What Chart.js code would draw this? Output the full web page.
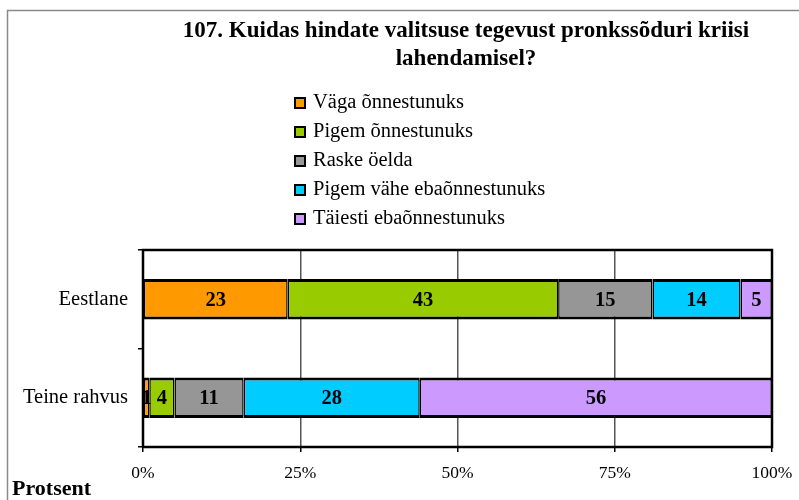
<!DOCTYPE html>
<html>
<head>
<meta charset="utf-8">
<script src="https://cdn.jsdelivr.net/npm/chart.js@4"></script>
<style>
html,body{margin:0;padding:0;background:#fff;}
#wrap{width:799px;height:500px;position:relative;}
</style>
</head>
<body>
<div id="wrap"><canvas id="c" width="799" height="500"></canvas></div>
<script>
const titleLines = ['107. Kuidas hindate valitsuse tegevust pronkssõduri kriisi', 'lahendamisel?'];
const axisTitle = 'Protsent';
const categories = ['Eestlane', 'Teine rahvus'];
const seriesNames = ['Väga õnnestunuks', 'Pigem õnnestunuks', 'Raske öelda', 'Pigem vähe ebaõnnestunuks', 'Täiesti ebaõnnestunuks'];
const vagaOnnestunuks = [23, 1];
const pigemOnnestunuks = [43, 4];
const raskeOelda = [15, 11];
const pigemVaheEbaonnestunuks = [14, 28];
const taiestiEbaonnestunuks = [5, 56];
const xTickValues = [0, 25, 50, 75, 100];
const seriesColors = ['#FF9900', '#99CC00', '#969696', '#00CCFF', '#CC99FF'];

const seriesValues = [vagaOnnestunuks, pigemOnnestunuks, raskeOelda, pigemVaheEbaonnestunuks, taiestiEbaonnestunuks];
const SERIF = '"Liberation Serif", "Times New Roman", serif';

const decorPlugin = {
  id: 'decor',
  beforeDraw(chart) {
    const ctx = chart.ctx;
    ctx.save();
    ctx.fillStyle = '#fff';
    ctx.fillRect(0, 0, chart.width, chart.height);
    ctx.strokeStyle = '#8a8a8a';
    ctx.lineWidth = 1.5;
    ctx.beginPath();
    ctx.moveTo(7.5, chart.height);
    ctx.lineTo(7.5, 10.5);
    ctx.lineTo(chart.width, 10.5);
    ctx.stroke();
    ctx.restore();
  },
  afterDatasetsDraw(chart) {
    const ctx = chart.ctx;
    const a = chart.chartArea;
    ctx.save();
    // plot frame
    ctx.strokeStyle = '#000';
    ctx.lineWidth = 2.5;
    ctx.strokeRect(a.left, a.top, a.right - a.left, a.bottom - a.top);
    // data labels
    ctx.fillStyle = '#000';
    ctx.font = 'bold 20.5px ' + SERIF;
    ctx.textAlign = 'center';
    ctx.textBaseline = 'middle';
    chart.data.datasets.forEach((ds, i) => {
      const meta = chart.getDatasetMeta(i);
      meta.data.forEach((el, j) => {
        const p = el.getProps(['x', 'y', 'base'], true);
        ctx.fillText(String(ds.data[j]), (p.x + p.base) / 2, p.y + 1);
      });
    });
    // title
    ctx.font = 'bold 23px ' + SERIF;
    ctx.textBaseline = 'alphabetic';
    ctx.fillText(titleLines[0], 466, 37);
    ctx.fillText(titleLines[1], 466, 65);
    // legend
    ctx.textAlign = 'left';
    ctx.font = '20.5px ' + SERIF;
    chart.data.datasets.forEach((ds, i) => {
      const base = 108 + i * 29;
      ctx.fillStyle = ds.backgroundColor;
      ctx.fillRect(295, base - 10, 10, 10);
      ctx.strokeStyle = '#000';
      ctx.lineWidth = 2;
      ctx.strokeRect(295, base - 10, 10, 10);
      ctx.fillStyle = '#000';
      ctx.fillText(ds.label, 313, base);
    });
    // axis title
    ctx.font = 'bold 22px ' + SERIF;
    ctx.fillText(axisTitle, 12, 495);
    ctx.restore();
  }
};

new Chart(document.getElementById('c'), {
  type: 'bar',
  data: {
    labels: categories,
    datasets: seriesNames.map((name, i) => ({
      label: name,
      data: seriesValues[i],
      backgroundColor: seriesColors[i],
      borderColor: '#000',
      borderWidth: {top: 3, bottom: 3, left: 1.5, right: 1.5},
      borderSkipped: false,
      barPercentage: 0.41,
      categoryPercentage: 1
    }))
  },
  options: {
    indexAxis: 'y',
    responsive: false,
    animation: false,
    layout: {padding: {top: 250, left: 0, right: 27, bottom: 0}},
    plugins: {
      legend: {display: false},
      title: {display: false},
      tooltip: {enabled: false}
    },
    scales: {
      x: {
        stacked: true,
        min: 0,
        max: 100,
        afterBuildTicks: s => { s.ticks = xTickValues.map(v => ({value: v})); },
        afterFit: s => { s.height = 53; s.paddingRight = 0; s.paddingLeft = 0; },
        border: {display: false},
        grid: {color: '#555', lineWidth: 1.5, tickLength: 5, tickColor: '#000'},
        ticks: {
          padding: 11,
          color: '#000',
          font: {family: SERIF, size: 17.5},
          callback: v => v + '%'
        }
      },
      y: {
        stacked: true,
        afterFit: s => { s.width = 143; },
        border: {display: false},
        grid: {drawOnChartArea: false, offset: true, tickLength: 5, tickColor: '#000', lineWidth: 1.5},
        ticks: {
          padding: 10,
          color: '#000',
          font: {family: SERIF, size: 20.5}
        }
      }
    }
  },
  plugins: [decorPlugin]
});
</script>
</body>
</html>
